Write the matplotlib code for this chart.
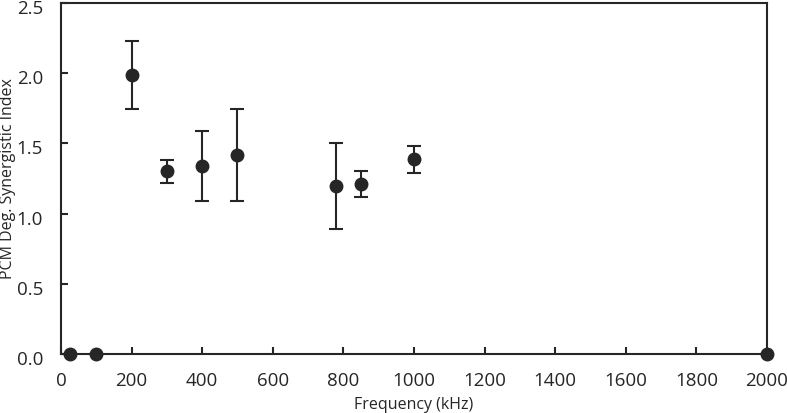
import matplotlib.pyplot as plt
from matplotlib.transforms import ScaledTranslation

plt.rcParams['font.family'] = ['Open Sans', 'DejaVu Sans']

freq = [25, 100, 200, 300, 400, 500, 780, 850, 1000, 2000]
index = [0.0, 0.0, 1.99, 1.30, 1.34, 1.42, 1.20, 1.21, 1.39, 0.0]
err_low = [0.0, 0.0, 0.245, 0.08, 0.25, 0.33, 0.31, 0.09, 0.10, 0.0]
err_high = [0.0, 0.0, 0.24, 0.08, 0.245, 0.325, 0.30, 0.09, 0.095, 0.0]

xticks = [0, 200, 400, 600, 800, 1000, 1200, 1400, 1600, 1800, 2000]
yticks = [0.0, 0.5, 1.0, 1.5, 2.0, 2.5]

col = '#262626'

fig = plt.figure(figsize=(7.87, 4.13), dpi=100)
ax = fig.add_axes([0.0775, 0.1429, 0.8971, 0.8498])

ax.errorbar(freq, index, yerr=[err_low, err_high], fmt='o', color=col,
            ms=9, capsize=5, capthick=1.5, elinewidth=1.5, clip_on=False, zorder=3)

ax.set_xlim(0, 2000)
ax.set_ylim(0, 2.5)
ax.set_xticks(xticks)
ax.set_yticks(yticks)
ax.set_yticklabels(['%.1f' % v for v in yticks])
ax.tick_params(direction='in', length=5, width=1.5, color=col, labelsize=13.5,
               labelcolor=col)
ax.tick_params(axis='x', pad=13)
ax.tick_params(axis='y', pad=13)
for s in ax.spines.values():
    s.set_linewidth(1.5)
    s.set_color(col)

# y tick labels sit a little below their ticks in the original
shift = ScaledTranslation(0, -0.04, fig.dpi_scale_trans)
for lab in ax.get_yticklabels():
    lab.set_transform(lab.get_transform() + shift)

ax.set_xlabel('Frequency (kHz)', fontsize=11.5, color=col, labelpad=5)
ax.set_ylabel('PCM Deg. Synergistic Index', fontsize=11.5, color=col)
ax.yaxis.set_label_coords(-0.064, 0.5)

fig.savefig('out.png', dpi=100)
